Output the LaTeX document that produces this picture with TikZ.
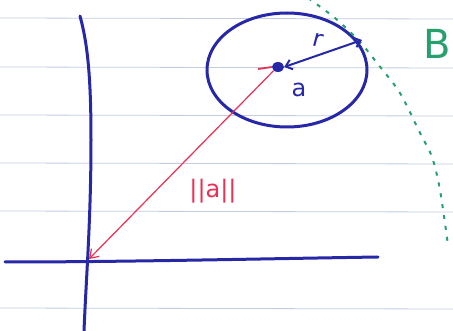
\documentclass[tikz,border=0pt]{standalone}
\usepackage{fontspec}
\setmainfont{DejaVu Sans}
\usetikzlibrary{arrows.meta,shapes.geometric}
\definecolor{pen}{RGB}{38,40,168}
\definecolor{redpen}{RGB}{232,48,84}
\definecolor{greenpen}{RGB}{40,160,110}
\definecolor{rule}{RGB}{196,204,228}
\tikzset{
  ruled/.style={rule, line width=0.8pt},
  axis/.style={pen, line width=3pt, line cap=round},
  bluearrow/.style={pen, line width=2pt, {Straight Barb[length=6pt,width=10pt]}-{Straight Barb[length=6pt,width=10pt]}},
  redarrow/.style={redpen, line width=1.2pt, -{Straight Barb[length=8pt,width=11pt]}},
  greendots/.style={greenpen, line width=2pt, dash pattern=on 4pt off 7pt},
  lbl/.style={inner sep=0pt, font=\fontsize{24}{24}\selectfont}
}
\begin{document}
\begin{tikzpicture}[x=1pt,y=-1pt]
\useasboundingbox (0,0) rectangle (453,331);
\fill[white] (0,0) rectangle (453,331);
\clip (0,0) rectangle (453,331);
% ruled paper lines
\foreach \yy in {18,67,115,163,211,308}
  \draw[ruled] (0,\yy) -- (453,\yy+1);
% axes
\coordinate (vtop) at (80,16);
\coordinate (vbot) at (84,331);
\coordinate (hleft) at (5,262);
\coordinate (hright) at (378,257);
\coordinate (o) at (89,259);
\draw[axis] (vtop) .. controls (88,45) and (91,80) .. (91,140) .. controls (91,220) and (86,280) .. (vbot);
\draw[axis] (hleft) .. controls (120,262) and (250,259) .. (hright);
% ellipse
\node[draw=pen, line width=3pt, ellipse, minimum width=160pt, minimum height=114pt, inner sep=0pt] (ell) at (287,70) {};
% green ball boundary
\draw[greendots] plot[smooth] coordinates {(308,-2) (335,18) (360,42) (377,63) (400,93) (420,133) (432,157) (440,190) (448,245)};
\node[greenpen, inner sep=0pt, font=\fontsize{40}{40}\selectfont] (B) at (437,44) {B};
% centre point
\node[fill=pen, ellipse, minimum width=12pt, minimum height=10pt, inner sep=0pt] (a) at (278,67) {};
\coordinate (rim) at (362,40);
\draw[bluearrow] (a.east) -- (rim);
\node[lbl, pen, rotate=-15] (rl) at (318,40) {r};
\node[lbl, pen] (al) at (299,90) {a};
% red vector
\draw[redpen, line width=1.8pt] (258,69) -- (a.west);
\draw[redarrow] (a.south west) -- (o);
\node[lbl, redpen] (norm) at (213,191) {||a||};
\end{tikzpicture}
\end{document}
